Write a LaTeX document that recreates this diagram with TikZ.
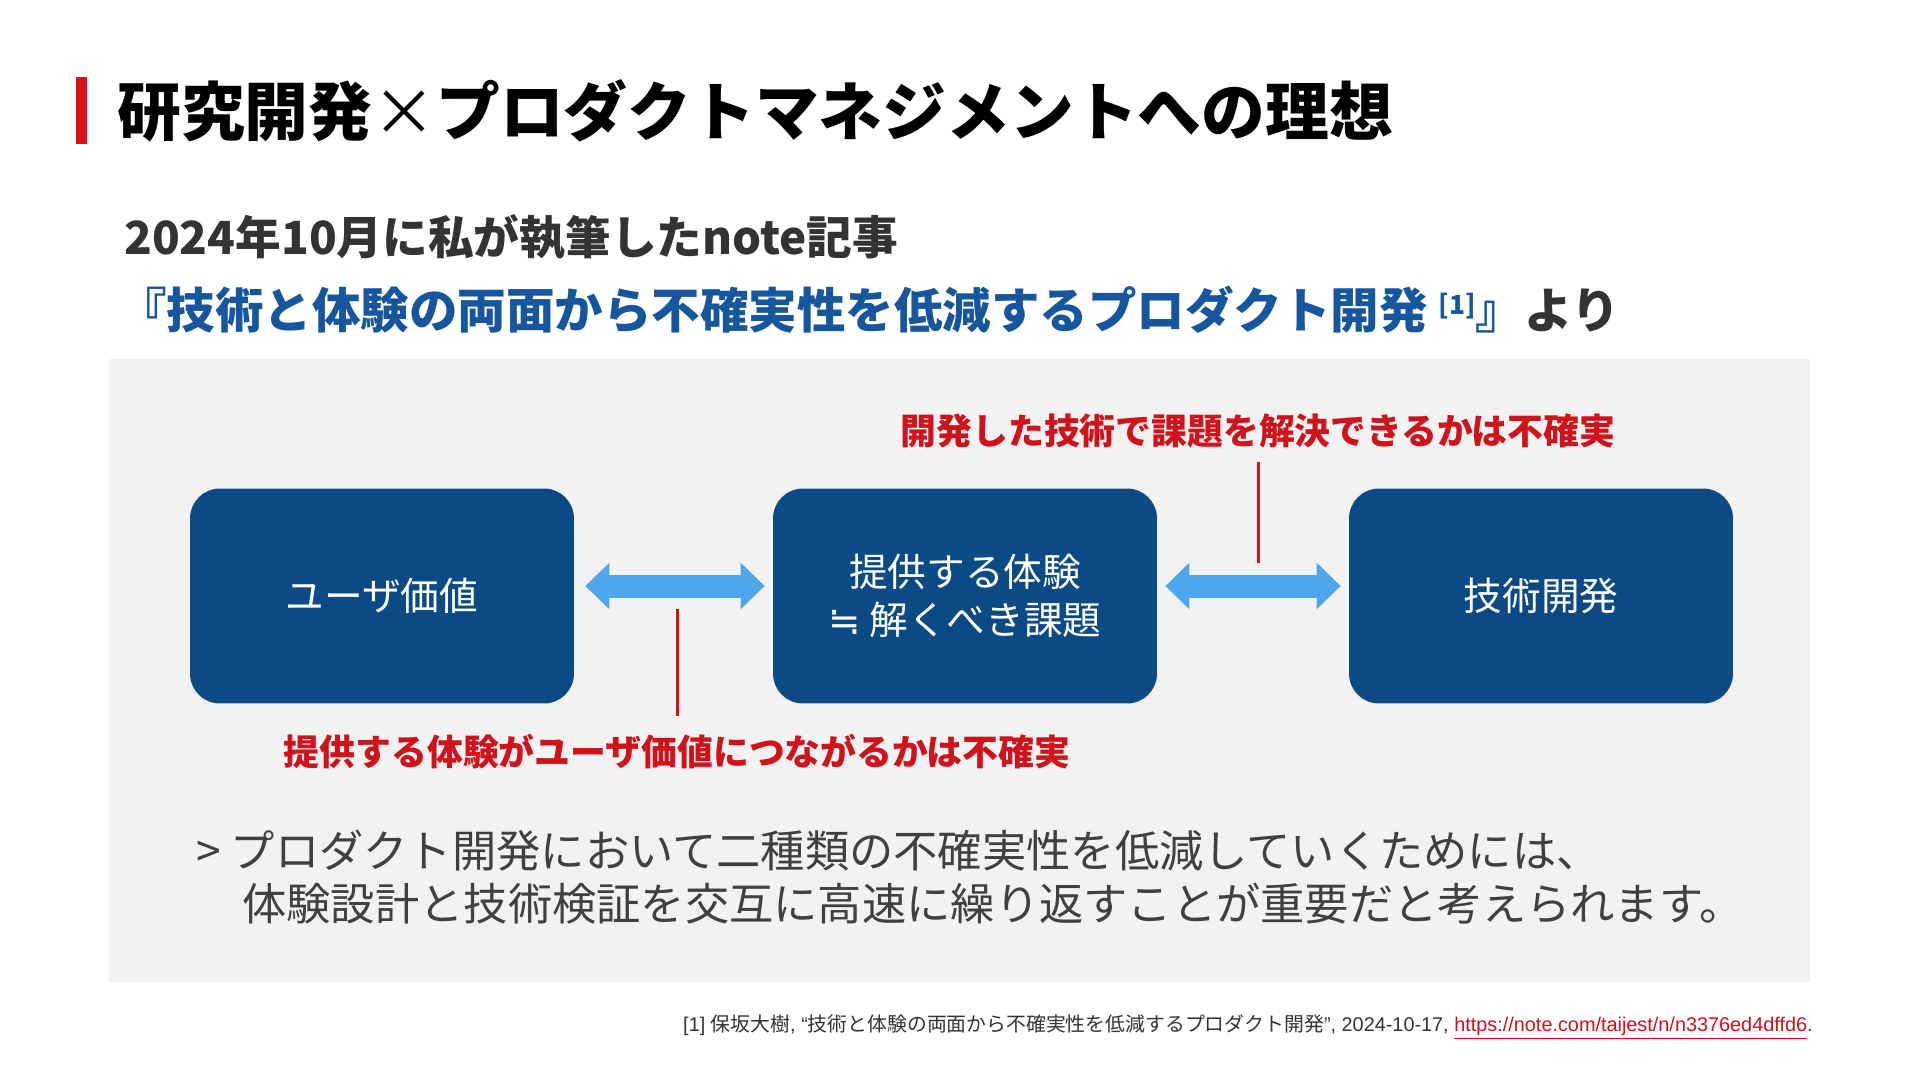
\documentclass[tikz,border=0pt]{standalone}
\usepackage{fontspec}
\setmainfont{Noto Sans CJK JP}
\newfontfamily\latfont{Liberation Sans}
\newfontfamily\symfont{DejaVu Sans}
\usetikzlibrary{arrows.meta}

\definecolor{barred}{HTML}{D7141A}
\definecolor{notered}{HTML}{D0121B}
\definecolor{txtgray}{HTML}{333333}
\definecolor{bodygray}{HTML}{404040}
\definecolor{subblue}{HTML}{15569E}
\definecolor{boxblue}{HTML}{0C4A85}
\definecolor{arrblue}{HTML}{4DA6EE}
\definecolor{panelgray}{HTML}{F2F2F2}

\begin{document}
\begin{tikzpicture}[
  x=0.02cm, y=-0.02cm,
  txt/.style={anchor=west, inner sep=0pt},
  bluebox/.style={fill=boxblue, rounded corners=17pt, minimum width=7.68cm,
                  minimum height=4.3cm, inner sep=0pt, align=center, text=white,
                  font=\fontsize{22}{27.2}\selectfont},
  bigarr/.style={{Triangle[length=0.48cm, width=0.9cm]}-{Triangle[length=0.48cm, width=0.9cm]},
                 draw=arrblue, line width=0.46cm},
  redline/.style={draw=notered, line width=1.7pt},
  redlab/.style={inner sep=0pt, text=notered, font=\fontsize{20.4}{24}\selectfont\bfseries}
]
\useasboundingbox (0,0) rectangle (1920,1080);
\fill[white] (0,0) rectangle (1920,1080);

% heading
\fill[barred] (76,77) rectangle (87,144);
\node[txt, font=\fontsize{36.3}{40}\selectfont\bfseries] (title) at (117,111)
  {研究開発{\mdseries ×}プロダクトマネジメントへの理想};
\node[txt, text=txtgray, font=\fontsize{26}{30}\selectfont\bfseries] (sub1) at (124,237)
  {2024年10月に私が執筆したnote記事};
\node[txt, text=txtgray, font=\fontsize{27.6}{32}\selectfont\bfseries] (sub2) at (118,310)
  {{\color{subblue}『技術と体験の両面から不確実性を低減するプロダクト開発
   \raisebox{0.55ex}{\fontsize{15}{15}\selectfont[1]}』}より};

% panel
\fill[panelgray] (109,359) rectangle (1810,982);

\node[bluebox] (user) at (382,596) {ユーザ価値};
\node[bluebox] (exp) at (965,596) {提供する体験\\{\symfont ≒} 解くべき課題};
\node[bluebox] (tech) at (1541,596) {技術開発};

\draw[bigarr, shorten <=0.22cm, shorten >=0.16cm] ([yshift=0.2cm]user.east) -- ([yshift=0.2cm]exp.west);
\draw[bigarr, shorten <=0.16cm, shorten >=0.16cm] ([yshift=0.2cm]exp.east) -- ([yshift=0.2cm]tech.west);

\node[redlab] (lt) at (1258,431) {開発した技術で課題を解決できるかは不確実};
\node[redlab] (lb) at (677,752) {提供する体験がユーザ価値につながるかは不確実};
\coordinate (k1) at (677,609);
\coordinate (k2) at (1258,563);
\draw[redline, shorten >=0.36cm] (k1) -- (lb.north);
\draw[redline, shorten >=0.26cm] (k2) -- (lt.south);

\node[txt, text=bodygray, font=\fontsize{25.2}{30}\selectfont] (body1) at (196,851)
  {> プロダクト開発において二種類の不確実性を低減していくためには、};
\node[txt, text=bodygray, font=\fontsize{25.2}{30}\selectfont] (body2) at (242,904)
  {体験設計と技術検証を交互に高速に繰り返すことが重要だと考えられます。};

% reference
\node[anchor=east, inner sep=0pt, text=txtgray, font=\fontsize{11.3}{13}\selectfont] (foot) at (1813,1027)
  {{\latfont [1] }保坂大樹{\latfont , “}技術と体験の両面から不確実性を低減するプロダクト開発{\latfont ”, 2024-10-17, }{\latfont\color{notered}\underline{https://note.com/taijest/n/n3376ed4dffd6}}{\latfont .}};
\end{tikzpicture}
\end{document}
